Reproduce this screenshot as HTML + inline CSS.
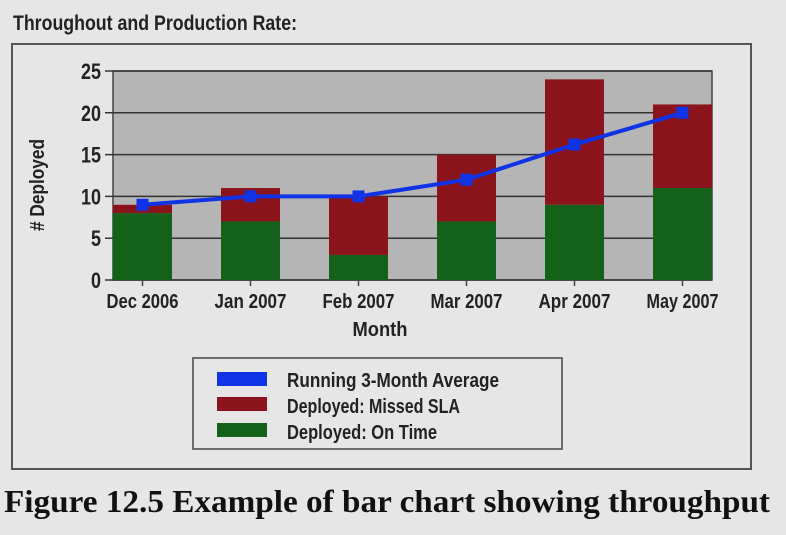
<!DOCTYPE html>
<html><head><meta charset="utf-8"><style>
body{margin:0;background:#e6e6e6;width:786px;height:530px;overflow:hidden}
svg text{font-family:"Liberation Sans",sans-serif;fill:#222}
</style></head><body>
<svg id="c" width="786" height="530">
<rect x="0" y="0" width="786" height="530" fill="#e6e6e6"/>
<text x="13" y="30" font-size="21" font-weight="bold" textLength="284" lengthAdjust="spacingAndGlyphs">Throughout and Production Rate:</text>
<rect x="12" y="44" width="739" height="425" fill="none" stroke="#555" stroke-width="2"/>
<g id="plot"></g>
<text x="380" y="336" font-size="20" font-weight="bold" text-anchor="middle" textLength="55" lengthAdjust="spacingAndGlyphs">Month</text>
<text transform="translate(44,185) rotate(-90)" font-size="20" font-weight="bold" text-anchor="middle" textLength="92" lengthAdjust="spacingAndGlyphs"># Deployed</text>
<g>
<rect x="193" y="358" width="369" height="91" fill="none" stroke="#444" stroke-width="1.5"/>
<rect x="217" y="372" width="50" height="14" fill="#1133e6"/>
<text x="287" y="387" font-size="20" font-weight="bold" textLength="212" lengthAdjust="spacingAndGlyphs">Running 3-Month Average</text>
<rect x="217" y="397" width="50" height="14" fill="#8b141c"/>
<text x="287" y="413" font-size="20" font-weight="bold" textLength="173" lengthAdjust="spacingAndGlyphs">Deployed: Missed SLA</text>
<rect x="217" y="423" width="50" height="14" fill="#14621a"/>
<text x="287" y="439" font-size="20" font-weight="bold" textLength="150" lengthAdjust="spacingAndGlyphs">Deployed: On Time</text>
</g>
<text x="4" y="512" font-size="32" font-weight="bold" style="font-family:'Liberation Serif',serif;fill:#111" textLength="766" lengthAdjust="spacingAndGlyphs">Figure 12.5 Example of bar chart showing throughput</text>
</svg>
<script>
const categories=["Dec 2006","Jan 2007","Feb 2007","Mar 2007","Apr 2007","May 2007"];
const onTime=[8,7,3,7,9,11];
const missed=[1,4,7,8,15,10];
const average=[9,10,10,12,16.2,20];
const yTicks=[0,5,10,15,20,25];
const NS="http://www.w3.org/2000/svg";
const L=113,R=712,T=71,B=280,yMax=25;
const bw=59, step=(R-L-bw)/(categories.length-1);
const y=v=>B-(v/yMax)*(B-T);
const xc=i=>L+bw/2+i*step;
const g=document.getElementById('plot');
function mk(tag,attrs){const e=document.createElementNS(NS,tag);for(const k in attrs)e.setAttribute(k,attrs[k]);g.appendChild(e);return e;}
let e=mk('rect',{x:L,y:T,width:R-L,height:B-T,fill:'#b5b5b5',stroke:'#444','stroke-width':1.5});


yTicks.forEach(t=>{
 let l=mk('line',{x1:L-8,x2:R,y1:y(t),y2:y(t),stroke:'#333','stroke-width':1.5});
 
 
 let tx=mk('text',{x:L-12,y:y(t)+8,'font-size':22,'font-weight':'bold','text-anchor':'end',textLength:String(t).length*10,lengthAdjust:'spacingAndGlyphs'});
 tx.textContent=t;
 
 
});
categories.forEach((c,i)=>{
 let x0=xc(i)-bw/2;
 let gr=mk('rect',{x:x0,y:y(onTime[i]),width:bw,height:B-y(onTime[i]),fill:'#14621a'});
 
 
 let rd=mk('rect',{x:x0,y:y(onTime[i]+missed[i]),width:bw,height:y(onTime[i])-y(onTime[i]+missed[i]),fill:'#8b141c'});
 
 
 let tk=mk('line',{x1:xc(i),x2:xc(i),y1:B,y2:B+6,stroke:'#444','stroke-width':1.5});
 
 
 let tx=mk('text',{x:xc(i),y:B+28,'font-size':20,'font-weight':'bold','text-anchor':'middle',textLength:72,lengthAdjust:'spacingAndGlyphs'});
 tx.textContent=c;
 
 
});
let ln=mk('polyline',{points:average.map((v,i)=>xc(i)+','+y(v)).join(' '),fill:'none',stroke:'#1133e6','stroke-width':4});


average.forEach((v,i)=>{
 let m=mk('rect',{x:xc(i)-6,y:y(v)-6,width:12,height:12,fill:'#1133e6'});
 
 
});
</script>
</body></html>
